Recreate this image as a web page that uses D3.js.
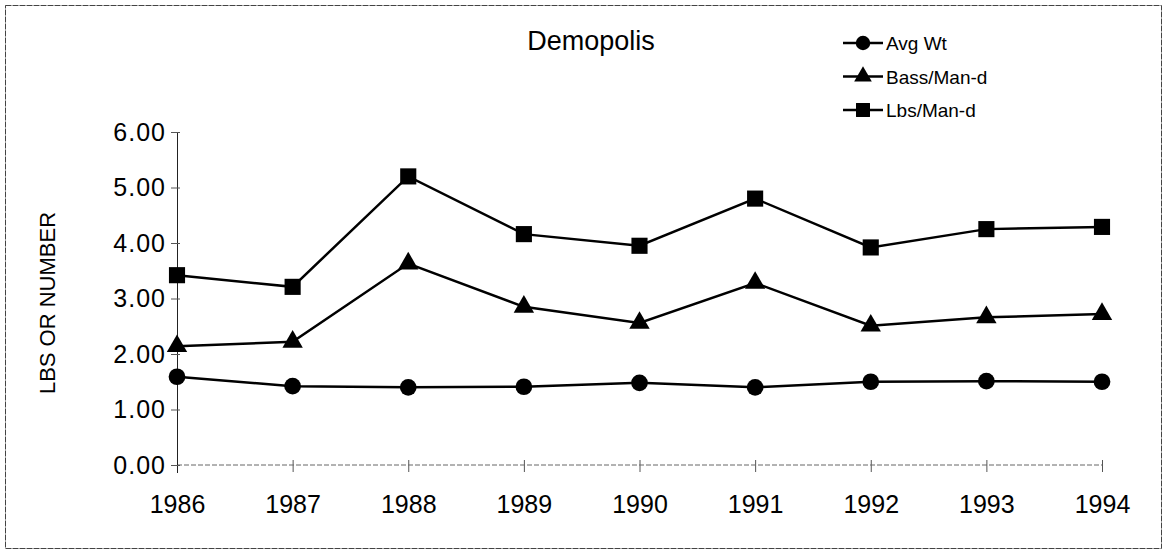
<!DOCTYPE html>
<html>
<head>
<meta charset="utf-8">
<script src="https://cdn.jsdelivr.net/npm/d3@7"></script>
<style>
  body { margin: 0; background: #fff; }
  svg { font-family: "Liberation Sans", Arial, sans-serif; }
</style>
</head>
<body>
<div id="chart"></div>
<script>
// data
var years = ["1986", "1987", "1988", "1989", "1990", "1991", "1992", "1993", "1994"];
var avgWt = [1.59, 1.42, 1.40, 1.41, 1.48, 1.40, 1.50, 1.51, 1.50];
var bassManDay = [2.14, 2.22, 3.63, 2.85, 2.56, 3.28, 2.51, 2.66, 2.72];
var lbsManDay = [3.42, 3.21, 5.20, 4.16, 3.95, 4.80, 3.92, 4.25, 4.29];
var yTicks = [0, 1, 2, 3, 4, 5, 6];
var seriesNames = ["Avg Wt", "Bass/Man-d", "Lbs/Man-d"];

// svg container
var svgWidth = 1167;
var svgHeight = 556;

var margin = {
  top: 132,
  right: 65,
  bottom: 91,
  left: 177,
};

var chartHeight = svgHeight - margin.top - margin.bottom;
var chartWidth = svgWidth - margin.left - margin.right;

var svg = d3.select("#chart")
  .append("svg")
  .attr("width", svgWidth)
  .attr("height", svgHeight);

// outer frame
svg.append("rect")
  .attr("x", 5.5)
  .attr("y", 5.5)
  .attr("width", svgWidth - 11)
  .attr("height", svgHeight - 13)
  .attr("fill", "none")
  .attr("stroke", "#444")
  .attr("stroke-width", 1)
  .attr("stroke-dasharray", "6,1");

var chartGroup = svg.append("g")
  .attr("transform", `translate(${margin.left}, ${margin.top})`);

// scales
var xScale = d3.scalePoint()
  .domain(years)
  .range([0, chartWidth]);

var yScale = d3.scaleLinear()
  .domain([0, 6])
  .range([chartHeight, 0]);

// x axis: dashed grey baseline, ticks below
var xAxis = d3.axisBottom(xScale).tickSize(7).tickPadding(23);
var xg = chartGroup.append("g")
  .attr("transform", `translate(0, ${chartHeight})`)
  .call(xAxis);
xg.select(".domain").remove();
xg.append("line")
  .attr("x1", 0).attr("x2", chartWidth)
  .attr("stroke", "#666")
  .attr("stroke-dasharray", "5,2");
xg.selectAll(".tick line").attr("y1", -5).attr("y2", 7).attr("stroke", "#555");
xg.selectAll(".tick text")
  .attr("fill", "#000")
  .style("font-size", "25px");

// y axis
var yAxis = d3.axisLeft(yScale)
  .tickValues(yTicks)
  .tickFormat(d3.format(".2f"))
  .tickSize(6)
  .tickPadding(5);
var yg = chartGroup.append("g").call(yAxis);
yg.select(".domain").attr("stroke", "#222").attr("d", `M0.5,${chartHeight + 8}V0`);
yg.selectAll(".tick line").attr("x1", 3).attr("x2", -6).attr("stroke", "#555");
yg.selectAll(".tick text")
  .attr("fill", "#000")
  .style("font-size", "25px")
  .style("letter-spacing", "1px");

// y label
svg.append("text")
  .attr("transform", "rotate(-90)")
  .attr("x", -303)
  .attr("y", 55)
  .attr("text-anchor", "middle")
  .style("font-size", "22px")
  .text("LBS OR NUMBER");

// title
svg.append("text")
  .attr("x", 591)
  .attr("y", 50)
  .attr("text-anchor", "middle")
  .style("font-size", "27px")
  .text("Demopolis");

// lines and markers
var allSeries = [avgWt, bassManDay, lbsManDay];
var symbols = [d3.symbolCircle, d3.symbolTriangle, d3.symbolSquare];
var symbolSizes = [220, 180, 260];

var line = d3.line()
  .x((d, i) => xScale(years[i]))
  .y(d => yScale(d));

allSeries.forEach(function(values, s) {
  chartGroup.append("path")
    .datum(values)
    .attr("d", line)
    .attr("fill", "none")
    .attr("stroke", "#000")
    .attr("stroke-width", 2.5);

  chartGroup.selectAll(".mark" + s)
    .data(values)
    .enter()
    .append("path")
    .attr("class", "mark" + s)
    .attr("transform", (d, i) => `translate(${xScale(years[i])}, ${yScale(d)})`)
    .attr("d", d3.symbol().type(symbols[s]).size(symbolSizes[s]))
    .attr("fill", "#000");
});

// legend
var legend = svg.append("g")
  .attr("transform", "translate(843, 43)");

seriesNames.forEach(function(name, s) {
  var row = legend.append("g")
    .attr("transform", `translate(0, ${s * 33.5})`);
  row.append("line")
    .attr("x1", 0).attr("x2", 40)
    .attr("stroke", "#000")
    .attr("stroke-width", 2.5);
  row.append("path")
    .attr("transform", "translate(20, 0)")
    .attr("d", d3.symbol().type(symbols[s]).size(symbolSizes[s] * 0.75))
    .attr("fill", "#000");
  row.append("text")
    .attr("x", 43)
    .attr("y", 7)
    .style("font-size", "19px")
    .text(name);
});
</script>
</body>
</html>
